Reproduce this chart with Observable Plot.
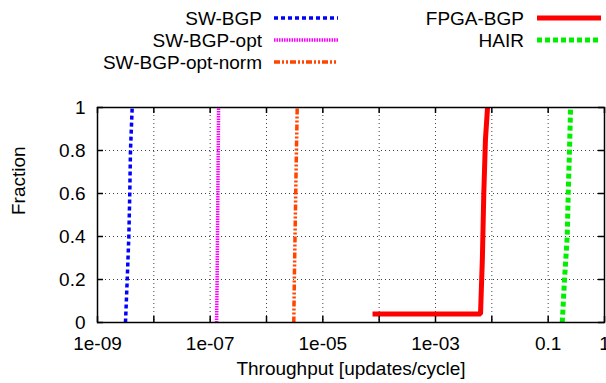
<!DOCTYPE html>
<html><head><meta charset="utf-8">
<script src="https://cdn.jsdelivr.net/npm/d3@7"></script>
<script src="https://cdn.jsdelivr.net/npm/@observablehq/plot@0.6"></script>
<style>
body{margin:0;background:#fff;}
#legend,#chart{display:block;line-height:0}
</style></head><body>
<div id="legend"></div><div id="chart"></div>
<script>
// ---- data ----
const seriesNames = ["SW-BGP", "SW-BGP-opt", "SW-BGP-opt-norm", "FPGA-BGP", "HAIR"];
const swBgpX   = [3.14e-9, 3.37e-9, 3.6e-9, 3.74e-9, 3.85e-9, 4.13e-9];
const swBgpY   = [0, 0.2, 0.4, 0.6, 0.8, 1];
const swOptX   = [1.30e-7, 1.33e-7, 1.35e-7, 1.37e-7, 1.39e-7, 1.41e-7];
const swOptY   = [0, 0.2, 0.4, 0.6, 0.8, 1];
const swNormX  = [3.05e-6, 3.12e-6, 3.21e-6, 3.30e-6, 3.40e-6, 3.51e-6];
const swNormY  = [0, 0.2, 0.4, 0.6, 0.8, 1];
const fpgaX    = [7.62e-5, 6.3e-3, 6.8e-3, 7.2e-3, 7.7e-3, 8.39e-3];
const fpgaY    = [0.04, 0.04, 0.3, 0.6, 0.85, 1];
const hairX    = [0.178, 0.195, 0.218, 0.227, 0.239, 0.250];
const hairY    = [0, 0.2, 0.4, 0.6, 0.8, 1];
const xTicks      = [1e-9, 1e-8, 1e-7, 1e-6, 1e-5, 1e-4, 1e-3, 1e-2, 1e-1, 1];
const xLabelTicks = [1e-9, 1e-7, 1e-5, 1e-3, 1e-1, 1];
const xLabels     = ["1e-09", "1e-07", "1e-05", "1e-03", "0.1", "1"];
const yTicks      = [0, 0.2, 0.4, 0.6, 0.8, 1];
const yLabels     = ["0", "0.2", "0.4", "0.6", "0.8", "1"];
const xTitle = "Throughput [updates/cycle]";
const yTitle = "Fraction";

// ---- styles ----
const styles = {
  "SW-BGP":          {stroke: "#0000ff", width: 3.5, dash: "4,3"},
  "SW-BGP-opt":      {stroke: "#ff00ff", width: 3.5, dash: "1.5,1"},
  "SW-BGP-opt-norm": {stroke: "#ff4500", width: 3.5, dash: "6,2,2,2,2,2"},
  "FPGA-BGP":        {stroke: "#ff0000", width: 5, dash: null},
  "HAIR":            {stroke: "#00ee00", width: 5, dash: "5,3"}
};
const xs = [swBgpX, swOptX, swNormX, fpgaX, hairX];
const ys = [swBgpY, swOptY, swNormY, fpgaY, hairY];
const series = seriesNames.map((name, k) => ({
  name, points: xs[k].map((x, i) => ({x, y: ys[k][i]}))
}));

const FONT = "'Liberation Sans', Arial, Helvetica, sans-serif";
const FS = 19;

// ---- legend ----
const legH = 80;
const leg = d3.select("#legend").append("svg")
  .attr("width", 606).attr("height", legH)
  .style("font-family", FONT).style("font-size", FS + "px");
const legendLayout = [
  {name: "SW-BGP", tx: 262, x1: 274, x2: 338, y: 18},
  {name: "SW-BGP-opt", tx: 262, x1: 274, x2: 338, y: 40},
  {name: "SW-BGP-opt-norm", tx: 262, x1: 274, x2: 338, y: 62},
  {name: "FPGA-BGP", tx: 524, x1: 537, x2: 601, y: 18},
  {name: "HAIR", tx: 524, x1: 537, x2: 601, y: 40}
];
for (const L of legendLayout) {
  const s = styles[L.name];
  leg.append("text").attr("x", L.tx).attr("y", L.y).attr("dy", "0.36em")
    .attr("text-anchor", "end").attr("fill", "#000").text(L.name);
  leg.append("line").attr("x1", L.x1).attr("x2", L.x2).attr("y1", L.y).attr("y2", L.y)
    .attr("stroke", s.stroke).attr("stroke-width", s.width)
    .attr("stroke-dasharray", s.dash);
}

// ---- chart ----
const H = 383 - legH;
const innerH = H - 27 - 61;
const lineMarks = series.map(s => Plot.line(s.points, {
  x: "x", y: "y", stroke: styles[s.name].stroke, strokeWidth: styles[s.name].width,
  strokeDasharray: styles[s.name].dash, strokeLinejoin: "miter", strokeLinecap: "butt"
}));

const chart = Plot.plot({
  width: 606, height: H,
  marginTop: 27, marginBottom: 61, marginLeft: 97, marginRight: 2,
  style: {fontFamily: FONT, fontSize: FS + "px", background: "#fff", color: "#000"},
  x: {type: "log", domain: [1e-9, 1]},
  y: {domain: [0, 1]},
  marks: [
    Plot.gridX(xTicks, {stroke: "#000", strokeOpacity: 0.75, strokeDasharray: "1,3", strokeWidth: 1}),
    Plot.gridY(yTicks, {stroke: "#000", strokeOpacity: 0.75, strokeDasharray: "1,3", strokeWidth: 1}),
    ...lineMarks,
    Plot.tickX(xTicks, {x: d => d, insetTop: innerH - 6, stroke: "#000", strokeWidth: 1.5}),
    Plot.tickX(xTicks, {x: d => d, insetBottom: innerH - 6, stroke: "#000", strokeWidth: 1.5}),
    Plot.tickY(yTicks, {y: d => d, insetRight: 507 - 6, stroke: "#000", strokeWidth: 1.5}),
    Plot.tickY(yTicks, {y: d => d, insetLeft: 507 - 6, stroke: "#000", strokeWidth: 1.5}),
    Plot.frame({stroke: "#000", strokeWidth: 1.5}),
    Plot.axisX(xLabelTicks, {tickSize: 0, tickPadding: 14, fontSize: FS, label: null,
      tickFormat: d => xLabels[xLabelTicks.indexOf(d)]}),
    Plot.axisY(yTicks, {tickSize: 0, tickPadding: 12, fontSize: FS, label: null,
      tickFormat: d => yLabels[yTicks.indexOf(d)]}),
    Plot.text([xTitle], {frameAnchor: "bottom", dy: 52, text: d => d, fontSize: FS}),
    Plot.text([yTitle], {frameAnchor: "left", dx: -79, rotate: -90, text: d => d, fontSize: FS})
  ]
});
document.getElementById("chart").appendChild(chart);
</script>
</body></html>
